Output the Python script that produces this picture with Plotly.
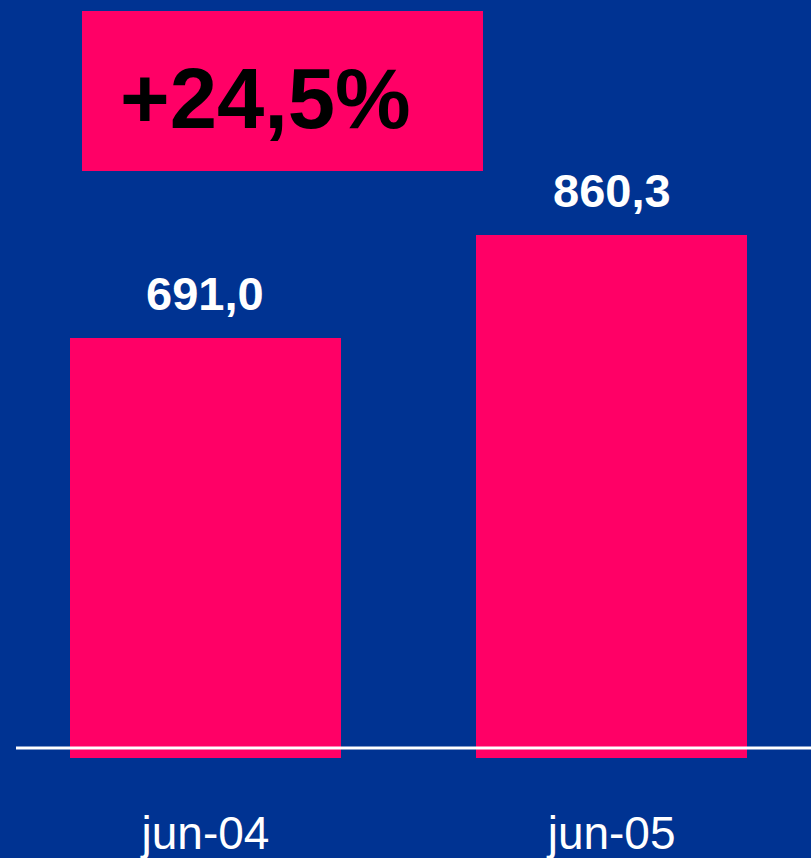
import plotly.graph_objects as go

categories = ["jun-04", "jun-05"]
values = [691.0, 860.3]
value_labels = ["691,0", "860,3"]
growth_label = "+24,5%"

BLUE = "#003392"
PINK = "#FF0066"

fig = go.Figure()
fig.add_trace(go.Bar(
    x=categories, y=values, width=0.667,
    marker=dict(color=PINK, line=dict(width=0)),
    hoverinfo="skip",
))

for c, v, t in zip(categories, values, value_labels):
    fig.add_annotation(x=c, y=v, text=f"<b>{t}</b>", showarrow=False,
                       yanchor="bottom", yshift=16,
                       font=dict(family="Liberation Sans, Arial", size=47, color="white"))

# growth box
fig.add_shape(type="rect", xref="paper", yref="paper",
              x0=82/811, x1=483/811, y0=(758-171)/758, y1=(758-11)/758,
              fillcolor=PINK, line=dict(width=0), layer="above")
fig.add_annotation(xref="paper", yref="paper", x=265/811, y=(758-98)/758,
                   text=f"<b>{growth_label}</b>", showarrow=False,
                   xanchor="center", yanchor="middle",
                   font=dict(family="Liberation Sans, Arial", size=85, color="black"))

# baseline
fig.add_shape(type="line", xref="paper", yref="paper",
              x0=16/811, x1=1, y0=10/758, y1=10/758,
              line=dict(color="white", width=3), layer="above")

fig.update_layout(
    width=811, height=858,
    margin=dict(l=0, r=0, t=0, b=100),
    paper_bgcolor=BLUE, plot_bgcolor=BLUE,
    showlegend=False,
    bargap=0,
    xaxis=dict(range=[-0.506, 1.491], showgrid=False, zeroline=False, showline=False,
               ticks="", tickfont=dict(family="Liberation Sans, Arial", size=46, color="white"),
               ticklabelstandoff=44, fixedrange=True),
    yaxis=dict(range=[0, 1247], visible=False, showgrid=False, zeroline=False, fixedrange=True),
)

fig.write_html("out.html", post_script="document.body.style.margin='0';document.body.style.overflow='hidden';",
               config={"displayModeBar": False})
